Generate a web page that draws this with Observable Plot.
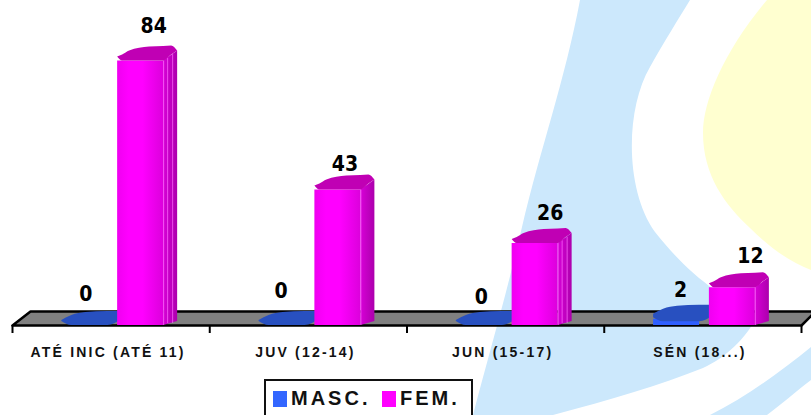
<!DOCTYPE html>
<html><head><meta charset="utf-8">
<script src="https://cdn.jsdelivr.net/npm/d3@7"></script>
<script src="https://cdn.jsdelivr.net/npm/@observablehq/plot@0.6"></script>
<style>
html,body{margin:0;padding:0;background:#fff;overflow:hidden}
#page{position:relative;width:811px;height:415px;overflow:hidden}
#wm{position:absolute;left:0;top:0}
#chart{position:absolute;left:0;top:0}
g[aria-label="x-axis tick label"] text{font:bold 14px "Liberation Sans",Arial,sans-serif;letter-spacing:2.2px;fill:#111}
#legend{position:absolute;left:264px;top:379px;width:205px;height:44px;border:2.5px solid #111;background:#fff;font:bold 20px "Liberation Sans",Arial,sans-serif;color:#111}
#legend i{position:absolute;top:10px;width:14px;height:16px}
#legend span{position:absolute;top:6px;letter-spacing:3px;white-space:nowrap}
</style></head><body>
<div id="page">
<svg id="wm" width="811" height="415">
<path d="M580 0C565 80 540 150 522 227C505 300 490 350 473 415L553 415C610 400 660 385 703 368C725 358 745 340 760 312C720 300 685 270 655 232C625 190 625 110 650 67C665 40 678 20 690 0Z" fill="#cce8fc"/>
<path d="M767 0C725 50 703 100 703 133C703 175 725 205 750 228C770 248 790 262 811 270L811 0Z" fill="#ffffd0"/>
<path d="M710 415C745 398 780 372 811 347L811 380C795 392 782 404 767 415Z" fill="#cce8fc"/>
</svg>
<div id="chart"></div>
<div id="legend"><i style="left:7px;background:#3366ff"></i><span style="left:25px">MASC.</span><i style="left:116px;background:#ff00ff"></i><span style="left:134px">FEM.</span></div>
</div>
<script>
const categories = ["ATÉ INIC (ATÉ 11)", "JUV (12-14)", "JUN (15-17)", "SÉN (18...)"];
const masc = [0, 0, 0, 2];
const fem = [84, 43, 26, 12];

// drawing scale factors: one pixel expressed in category units / value units
const pxX = 1 / 197.25, pxY = 1 / 3.15;
const capX = [0, 5, 12, 32, 46, 54, 60];
const capLow = [4, 0, 0, 0, 0, 6, 10];
const capHigh = [4, 6, 10, 14, 14.5, 15, 10];
const blueX = [0, 10, 24, 46, 60];
const blueLow = [4, 0, 0, 0, 6];
const blueHigh = [5, 10, 13, 14, 14];
const femOffset = 0.533, mascOffset = 0.25;
const labelShift = {fem: [[36, 4], [30, -5], [38, -1], [41, 0]], masc: [[24, 0], [22, 3], [25, -3], [27, -2]]};

const cap = (i, off, v) => capX.map((px, k) => ({
  g: i, x: i + off + px * pxX, y1: v + capLow[k] * pxY, y2: v + capHigh[k] * pxY
}));
const blueCap = (i, off, v) => blueX.map((px, k) => ({
  g: i, x: i + off + px * pxX,
  y1: v + (blueLow[k] - (v > 0 ? 2.5 : 0)) * pxY,
  y2: v + blueHigh[k] * pxY
}));
const front = (i, off, v) => [0, 46].map(px => ({g: i, x: i + off + px * pxX, y1: 0, y2: v}));
const side = (i, off, v) => [46, 60].map((px, k) => ({
  g: i, x: i + off + px * pxX, y1: k * 4 * pxY, y2: v + k * 10 * pxY
}));

const all = (arr, off, fn) => arr.flatMap((v, i) => fn(i, off, v));
const floor = [
  {x: 0, y1: 0, y2: 0},
  {x: 18 * pxX, y1: 0, y2: 14 * pxY},
  {x: 4, y1: 0, y2: 14 * pxY},
  {x: 4 + 14 * pxX, y1: 14 * pxY, y2: 14 * pxY}
];
const floorEdge = [
  {x: 0, y: 0}, {x: 18 * pxX, y: 14 * pxY}, {x: 4 + 14 * pxX, y: 14 * pxY},
  {x: 4, y: 0}, {x: 0, y: 0}
];
const sideLines = [
  ...fem.map((v, i) => ({x: i + femOffset + 46 * pxX, y1: 0, y2: v})),
  ...[0, 2].flatMap(i => [50, 55].map(px => ({x: i + femOffset + px * pxX, y1: 2 * pxY, y2: fem[i] + (px - 46) * 0.7 * pxY})))
];
const labels = [
  ...masc.map((v, i) => ({x: i + mascOffset + labelShift.masc[i][0] * pxX, y: v + (31 + labelShift.masc[i][1]) * pxY, t: v})),
  ...fem.map((v, i) => ({x: i + femOffset + labelShift.fem[i][0] * pxX, y: v + (31 + labelShift.fem[i][1]) * pxY, t: v}))
];

const grad = () => {
  const svgNS = "http://www.w3.org/2000/svg";
  const defs = document.createElementNS(svgNS, "defs");
  const mk = (id, stops) => {
    const g = document.createElementNS(svgNS, "linearGradient");
    g.setAttribute("id", id);
    stops.forEach(([o, c]) => {
      const s = document.createElementNS(svgNS, "stop");
      s.setAttribute("offset", o); s.setAttribute("stop-color", c); g.appendChild(s);
    });
    defs.appendChild(g);
  };
  mk("gFront", [[0, "#f000f0"], [0.25, "#ff00ff"], [0.55, "#ff00ff"], [1, "#dc00dc"]]);
  mk("gSide", [[0, "#d800d8"], [1, "#ac00ac"]]);
  return defs;
};

const plot = Plot.plot({
  width: 811, height: 379,
  marginTop: 0, marginLeft: 12, marginRight: 10, marginBottom: 54,
  style: {background: "transparent", overflow: "visible"},
  x: {type: "linear", domain: [0, 4]},
  y: {type: "linear", domain: [0, 103.17], axis: null},
  marks: [
    grad,
    Plot.areaY(floor, {x: "x", y1: "y1", y2: "y2", fill: "#808080"}),
    Plot.line(floorEdge, {x: "x", y: "y", stroke: "#000", strokeWidth: 2.5}),
    Plot.axisX({ticks: [0, 1, 2, 3, 4], tickFormat: () => "", tickSize: 8, stroke: "#000", strokeWidth: 2, label: null, anchor: "bottom"}),
    Plot.axisX({ticks: [0.5, 1.5, 2.5, 3.5], tickFormat: d => categories[Math.floor(d)], tickSize: 0, tickPadding: 22, label: null, anchor: "bottom", dx: -3}),
    // MASC.
    Plot.areaY(all(masc, mascOffset, front), {x: "x", y1: "y1", y2: "y2", z: "g", fill: "#2f5fff"}),
    Plot.areaY(all(masc, mascOffset, blueCap), {x: "x", y1: "y1", y2: "y2", z: "g", fill: "#2850c0", curve: "monotone-x"}),
    // FEM.
    Plot.areaY(all(fem, femOffset, side), {x: "x", y1: "y1", y2: "y2", z: "g", fill: "url(#gSide)"}),
    Plot.areaY(all(fem, femOffset, front), {x: "x", y1: "y1", y2: "y2", z: "g", fill: "url(#gFront)"}),
    Plot.ruleX(sideLines, {x: "x", y1: "y1", y2: "y2", stroke: "#ff70ff", strokeWidth: 0.7}),
    Plot.areaY(all(fem, femOffset, cap), {x: "x", y1: "y1", y2: "y2", z: "g", fill: "#c000b4", curve: "monotone-x"}),
    Plot.text(labels, {x: "x", y: "y", text: "t", fontSize: 21, fontWeight: "bold", fontFamily: "'DejaVu Sans Condensed','DejaVu Sans'", fill: "#000"})
  ]
});
document.getElementById("chart").appendChild(plot);
</script>
</body></html>
